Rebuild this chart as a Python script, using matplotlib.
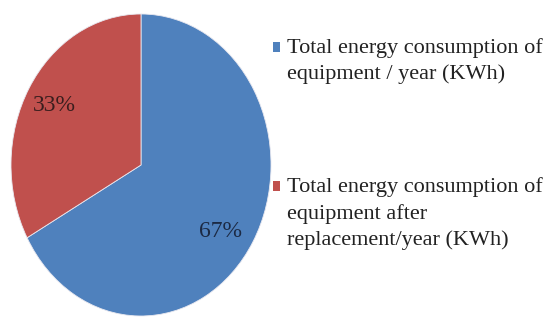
import matplotlib
matplotlib.use("Agg")
import matplotlib.pyplot as plt
from matplotlib.patches import Patch, Rectangle
from matplotlib.legend_handler import HandlerPatch

labels = ["Total energy consumption of\nequipment / year (KWh)",
          "Total energy consumption of\nequipment after\nreplacement/year (KWh)"]
values = [67, 33]
colors = ["#4F81BD", "#C0504D"]

plt.rcParams['font.family'] = ['Liberation Serif', 'DejaVu Serif']

FS = 16
LS = 1.44

fig = plt.figure(figsize=(5.46, 3.18), dpi=100)
ax = fig.add_axes([11/546, 2/318, 260/546, 302/318])
wedges, texts, autotexts = ax.pie(values, colors=colors, startangle=90, counterclock=False,
                                  autopct='%1.0f%%', pctdistance=0.77,
                                  wedgeprops=dict(edgecolor='#e8e8f0', linewidth=0.6),
                                  textprops=dict(fontsize=17, color='#1f2630'))
autotexts[0].set_position((0.61, -0.44))
autotexts[0].set_color('#1c2a44')
autotexts[1].set_color('#3a1e1e')
ax.set_aspect('auto')
ax.set_xlim(-1, 1)
ax.set_ylim(-1, 1)


def top_square(legend, orig_handle, xdescent, ydescent, width, height, fontsize):
    n = getattr(orig_handle, "_nlines", 1)
    shift = (n - 1) / 2 * fontsize * LS * 0.83
    return Rectangle((-xdescent, -ydescent + shift), width, height)


handles = []
for c, lab in zip(colors, labels):
    p = Patch(facecolor=c, edgecolor='none')
    p._nlines = lab.count("\n") + 1
    handles.append(p)

leg = fig.legend(handles, labels, loc='upper left', bbox_to_anchor=(273/546, 1 - 38/318),
                 frameon=False, fontsize=FS, handlelength=0.32, handleheight=0.32,
                 handletextpad=0.32, labelspacing=4.2, borderaxespad=0, borderpad=0,
                 labelcolor='#222222',
                 handler_map={Patch: HandlerPatch(patch_func=top_square)})
for t in leg.get_texts():
    t.set_linespacing(LS)

fig.savefig("out.png", dpi=100)
